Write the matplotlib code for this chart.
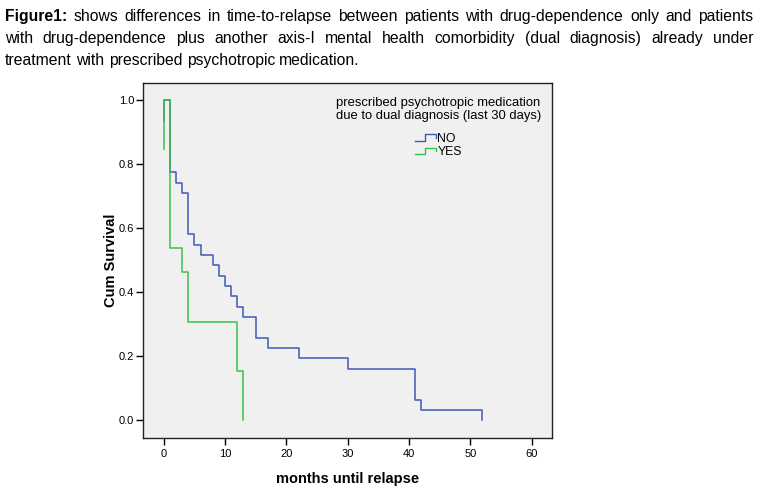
import matplotlib
matplotlib.use("Agg")
import matplotlib.pyplot as plt
from matplotlib import font_manager
from matplotlib.legend_handler import HandlerBase
from matplotlib.lines import Line2D

# Kaplan-Meier steps
no_months = [0, 0, 1, 2, 3, 4, 5, 6, 8, 9, 10, 11, 12, 13, 15, 17, 22, 30, 41, 42, 52]
no_surv = [0.935, 1.0, 0.774, 0.742, 0.710, 0.581, 0.548, 0.516, 0.484, 0.452,
           0.419, 0.387, 0.355, 0.323, 0.258, 0.226, 0.194, 0.161, 0.065, 0.032, 0.0]
yes_months = [0, 0, 1, 3, 4, 12, 13]
yes_surv = [0.846, 1.0, 0.538, 0.462, 0.308, 0.154, 0.0]

group_labels = ["NO", "YES"]
legend_title = "prescribed psychotropic medication\ndue to dual diagnosis (last 30 days)"
x_ticks = [0, 10, 20, 30, 40, 50, 60]
y_ticks = [0.0, 0.2, 0.4, 0.6, 0.8, 1.0]

caption_lines = [
    "shows differences in time-to-relapse between patients with drug-dependence only and patients",
    "with drug-dependence plus another axis-I mental health comorbidity (dual diagnosis) already under",
    "treatment with prescribed psychotropic medication.",
]

blue = "#3f59b9"
green = "#3dbf4e"

names = {f.name for f in font_manager.fontManager.ttflist}
cap_font = "Liberation Sans Narrow" if "Liberation Sans Narrow" in names else "Liberation Sans"
plt.rcParams["font.family"] = ["Liberation Sans", "DejaVu Sans"]


class StepHandler(HandlerBase):
    # small step-shaped legend icon like SPSS draws
    def create_artists(self, legend, orig_handle, xdescent, ydescent,
                       width, height, fontsize, trans):
        x0 = -xdescent
        y0 = -ydescent
        xs = [x0, x0 + width * 0.5, x0 + width * 0.5, x0 + width, x0 + width]
        ys = [y0 + height * 0.1, y0 + height * 0.1, y0 + height * 0.85,
              y0 + height * 0.85, y0 + height * 0.4]
        ln = Line2D(xs, ys, color=orig_handle.get_color(), lw=1.0, transform=trans)
        return [ln]


fig = plt.figure(figsize=(7.62, 4.92), dpi=100)
ax = fig.add_axes([0.1881, 0.1098, 0.5360, 0.7221])
ax.set_facecolor("#f0f0f0")

l1, = ax.plot(no_months, no_surv, drawstyle="steps-post", color=blue, lw=1.1)
l2, = ax.plot(yes_months, yes_surv, drawstyle="steps-post", color=green, lw=1.1)

ax.set_xlim(-3.33, 63.3)
ax.set_ylim(-0.055, 1.054)
ax.set_xticks(x_ticks)
ax.set_yticks(y_ticks)
ax.set_yticklabels([f"{v:.1f}" for v in y_ticks])
ax.tick_params(direction="out", length=5, width=1, labelsize=8, pad=1.5, colors="black")
ax.tick_params(axis="x", pad=3)
for s in ax.spines.values():
    s.set_linewidth(1.0)
    s.set_color("#222222")

ax.set_xlabel("months until relapse", fontsize=10.5, fontweight="bold", labelpad=9)
ax.set_ylabel("Cum Survival", fontsize=10.5, fontweight="bold", labelpad=1)

# legend: title as plain text, entries centred under it
ax.text(0.722, 0.924, legend_title, transform=ax.transAxes, ha="center", va="center",
        multialignment="center", fontsize=9.4, linespacing=1.12)
leg = ax.legend([l1, l2], group_labels, loc="center",
                bbox_to_anchor=(0.722, 0.824), frameon=False, fontsize=8.8,
                handler_map={Line2D: StepHandler()},
                handlelength=1.75, handletextpad=0.1, labelspacing=0.1,
                borderpad=0.1)

# caption, justified like the source page
fig.canvas.draw()
renderer = fig.canvas.get_renderer()
left_px, right_px = 5, 753
W, H = fig.bbox.width, fig.bbox.height
baseline_y = [21, 43, 65]
cap_size = 11.3
for i, line in enumerate(caption_lines):
    words = line.split(" ")
    items = []
    if i == 0:
        items.append(("Figure1:", "bold"))
    items += [(w, "normal") for w in words]
    texts = []
    widths = []
    for w, weight in items:
        t = fig.text(0, 1 - baseline_y[i] / H, w, fontsize=cap_size, fontweight=weight,
                     family=[cap_font, "DejaVu Sans"], va="baseline", ha="left")
        texts.append(t)
        widths.append(t.get_window_extent(renderer).width)
    if i < len(caption_lines) - 1:
        gap = (right_px - left_px - sum(widths)) / (len(items) - 1)
    else:
        gap = cap_size * 0.28 * 100 / 72
    x = left_px
    for t, wd in zip(texts, widths):
        t.set_x(x / W)
        x += wd + gap

fig.savefig("out.png", dpi=100)
